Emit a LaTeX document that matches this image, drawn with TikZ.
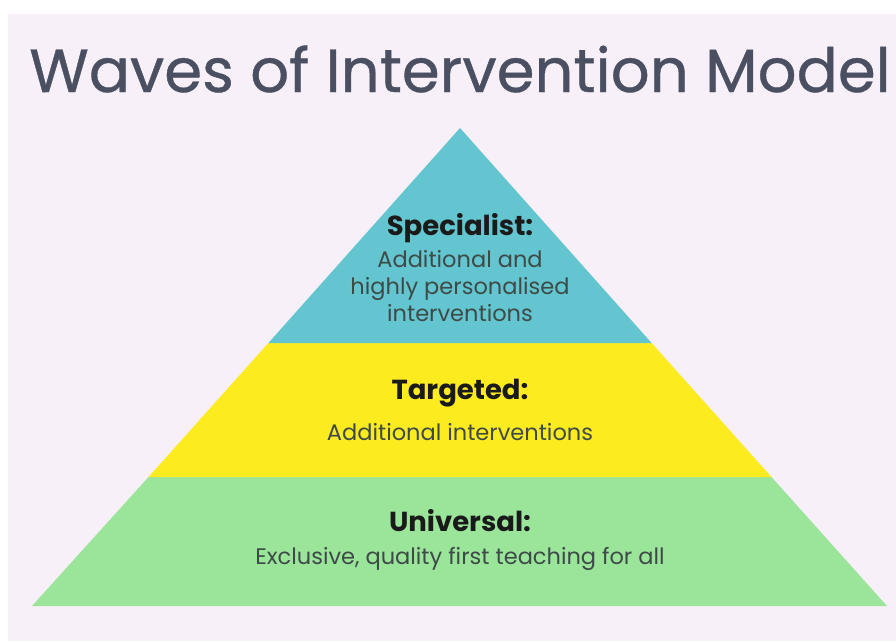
\documentclass[tikz,border=0pt]{standalone}
\usepackage{fontspec}
\setmainfont{Poppins}
\newfontfamily\titlefont[FakeBold=0.6]{Poppins}
\usepackage{tikz}

\definecolor{pagebg}{HTML}{F8F0F8}
\definecolor{titlegray}{HTML}{4A5061}
\definecolor{tealwave}{HTML}{63C5CF}
\definecolor{yellowwave}{HTML}{FCEB1E}
\definecolor{greenwave}{HTML}{9BE59B}
\definecolor{headblack}{HTML}{1A1A1A}
\definecolor{bodygray}{HTML}{3E4A48}

\begin{document}
\begin{tikzpicture}[x=1pt,y=-1pt,align=center,
        head/.style={font=\fontsize{27.5}{30}\selectfont\bfseries,text=headblack,inner sep=0pt},
        body/.style={font=\fontsize{22.5}{27}\selectfont,text=bodygray,inner sep=0pt}]
        \useasboundingbox (0,0) rectangle (896,641);
        \fill[white] (0,0) rectangle (896,641);
        \fill[pagebg] (8,14) rectangle (896,641);

        \node[font=\titlefont\fontsize{61}{64}\selectfont,text=titlegray,inner sep=0pt] (title) at (460,69) {Waves of Intervention Model};

        % the three waves
        \fill[greenwave] (32,606) -- (887,606) -- (771.5,477) -- (148.5,477) -- cycle;
        \fill[yellowwave] (148.5,477) -- (771.5,477) -- (651.6,343) -- (268.4,343) -- cycle;
        \fill[tealwave] (268.4,343) -- (651.6,343) -- (460,128) -- cycle;

        \node[head] (spec) at (460,228) {Specialist:};
        \node[body] (specText) at (460,286) {Additional and\\highly personalised\\interventions};
        \node[head] (targ) at (460,393) {Targeted:};
        \node[body] (targText) at (460,432) {Additional interventions};
        \node[head] (univ) at (460,521) {Universal:};
        \node[body] (univText) at (460,559) {Exclusive, quality first teaching for all};
\end{tikzpicture}
\end{document}
